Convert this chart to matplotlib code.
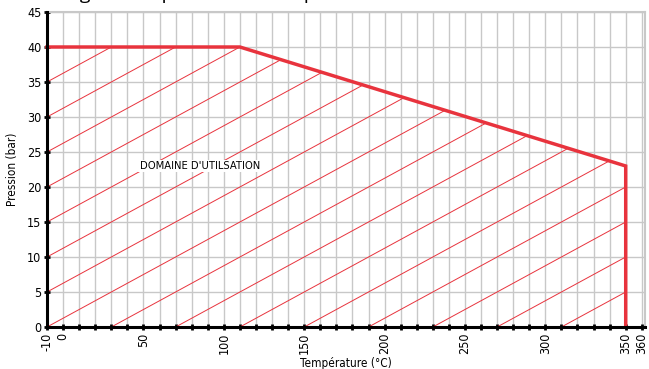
import matplotlib.pyplot as plt
import numpy as np
from matplotlib.patches import Polygon
from matplotlib import font_manager

# police étroite si disponible
noms = {f.name for f in font_manager.fontManager.ttflist}
etroite = [n for n in ['Liberation Sans Narrow', 'DejaVu Sans'] if n in noms]
plt.rcParams['font.family'] = etroite + ['DejaVu Sans']
plt.rcParams['font.stretch'] = 'condensed'

# limite du domaine d'utilisation (température °C, pression bar)
temp_limite = [-10, 110, 350, 350]
pres_limite = [40, 40, 23, 0]

x_ticks = np.arange(-10, 361, 10)
x_labels = ['-10', '0', '50', '100', '150', '200', '250', '300', '350', '360']
y_ticks = np.arange(0, 46, 5)

# hachures : pente 5 bar / 40 °C, départ tous les 40 °C
hach_pente = 5 / 40
hach_depart = np.arange(-330, 351, 40)

rouge = '#e8333d'

fig = plt.figure(figsize=(6.49, 3.69), dpi=100)
ax = fig.add_axes([47 / 649, 42 / 369, 598 / 649, 315 / 369])

ax.set_xlim(-10, 362)
ax.set_ylim(0, 45)

# zone hachurée
poly = Polygon(list(zip(temp_limite, pres_limite)) + [(-10, 0)], closed=True,
               facecolor='none', edgecolor='none')
ax.add_patch(poly)
xx = np.array([-10, 360])
for x0 in hach_depart:
    ln, = ax.plot(xx, hach_pente * (xx - x0), color=rouge, lw=0.7, zorder=2)
    ln.set_clip_path(poly)

ax.plot(temp_limite, pres_limite, color=rouge, lw=2.5, zorder=4,
        solid_joinstyle='miter', clip_on=False)

ax.text(85, 23, "DOMAINE D'UTILSATION", fontsize=8, ha='center', va='center',
        zorder=3, bbox=dict(facecolor='white', edgecolor='none', pad=1))

# grille
ax.set_xticks(x_ticks)
ax.set_xticklabels([str(t) if str(t) in x_labels else '' for t in x_ticks],
                   rotation=90, fontsize=9)
ax.set_yticks(y_ticks)
ax.set_yticklabels([str(t) for t in y_ticks], fontsize=9)
ax.grid(True, color='#c8c8c8', lw=1, zorder=0)
ax.set_axisbelow(True)

ax.tick_params(axis='both', direction='inout', length=4, width=2, pad=2, color='black')
ax.spines['left'].set_linewidth(2.2)
ax.spines['bottom'].set_linewidth(2.2)
ax.spines['left'].set_zorder(5)
ax.spines['bottom'].set_zorder(5)
for s in ['top', 'right']:
    ax.spines[s].set_color('#c8c8c8')
    ax.spines[s].set_linewidth(1.5)

ax.set_xlabel('Température (°C)', fontsize=8.5, labelpad=2)
ax.set_ylabel('Pression (bar)', fontsize=8.5, labelpad=6)

# titre coupé en haut de l'image
fig.text(50 / 649, 1 + 1 / 369, 'Diagramme pression et température', fontsize=14,
         family=['Open Sans', 'DejaVu Sans'], fontstretch='normal',
         va='baseline', ha='left')

fig.savefig('out.png', dpi=100)
